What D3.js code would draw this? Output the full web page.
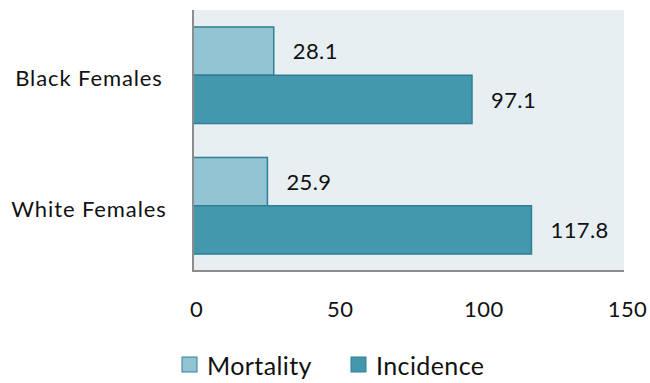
<!DOCTYPE html>
<html>
<head>
<meta charset="utf-8">
<script src="https://cdn.jsdelivr.net/npm/d3@7"></script>
<style>
  body { margin: 0; background: #fff; }
  svg { font-family: Lato, "Open Sans", sans-serif; font-weight: 400; }
</style>
</head>
<body>
<div id="chart"></div>
<script>
const categories = ["Black Females", "White Females"];
const seriesNames = ["Mortality", "Incidence"];
const mortality = [28.1, 25.9];
const incidence = [97.1, 117.8];
const xTicks = [0, 50, 100, 150];

const colors = { Mortality: "#93c4d4", Incidence: "#4398ae" };
const strokeCol = "#2f8095";

const w = 650,
  h = 383;
const m = { left: 193, right: 26, top: 10, bottom: 112 };

const svg = d3
  .select("#chart")
  .append("svg")
  .attr("width", w)
  .attr("height", h);

const x = d3
  .scaleLinear()
  .domain([0, 150])
  .range([m.left, w - m.right]);

const y = d3
  .scaleBand()
  .domain(categories)
  .range([m.top, h - m.bottom])
  .paddingInner(0.26)
  .paddingOuter(0.13);

const ySub = d3
  .scaleBand()
  .domain(seriesNames)
  .range([0, y.bandwidth()]);

// plot background
svg
  .append("rect")
  .attr("x", m.left)
  .attr("y", m.top)
  .attr("width", x(150) - m.left)
  .attr("height", h - m.bottom - m.top)
  .attr("fill", "#e8eff3");

const rows = categories.map((c, i) => ({
  cat: c,
  vals: [
    { name: "Mortality", v: mortality[i] },
    { name: "Incidence", v: incidence[i] },
  ],
}));

const g = svg
  .selectAll("g.row")
  .data(rows)
  .enter()
  .append("g")
  .attr("class", "row")
  .attr("transform", (d) => `translate(0, ${y(d.cat)})`);

g.selectAll("rect")
  .data((d) => d.vals)
  .enter()
  .append("rect")
  .attr("x", x(0))
  .attr("y", (d) => ySub(d.name))
  .attr("width", (d) => x(d.v) - x(0))
  .attr("height", ySub.bandwidth())
  .attr("fill", (d) => colors[d.name])
  .attr("stroke", strokeCol)
  .attr("stroke-width", 1.5);

g.selectAll("text.val")
  .data((d) => d.vals)
  .enter()
  .append("text")
  .attr("class", "val")
  .attr("x", (d) => x(d.v) + 19)
  .attr("y", (d) => ySub(d.name) + ySub.bandwidth() / 2)
  .attr("dy", "0.38em")
  .attr("font-size", 22)
  .attr("letter-spacing", 0.4)
  .attr("fill", "#111")
  .text((d) => d.v.toFixed(1));

// category labels
svg
  .selectAll("text.cat")
  .data(categories)
  .enter()
  .append("text")
  .attr("class", "cat")
  .attr("x", 89)
  .attr("y", (d) => y(d) + y.bandwidth() / 2 + 3)
  .attr("dy", "0.36em")
  .attr("text-anchor", "middle")
  .attr("font-size", 22)
  .attr("letter-spacing", 0.9)
  .attr("fill", "#111")
  .text((d) => d);

// axis lines
svg
  .append("line")
  .attr("x1", m.left)
  .attr("x2", m.left)
  .attr("y1", m.top)
  .attr("y2", h - m.bottom)
  .attr("stroke", "#8c8c8c")
  .attr("stroke-width", 2);

svg
  .append("line")
  .attr("x1", m.left - 1)
  .attr("x2", x(150))
  .attr("y1", h - m.bottom)
  .attr("y2", h - m.bottom)
  .attr("stroke", "#8c8c8c")
  .attr("stroke-width", 2);

// x axis tick labels
const xAxis = d3.axisBottom(x).tickValues(xTicks).tickSize(0).tickPadding(0);
const ax = svg
  .append("g")
  .attr("transform", `translate(3, ${h - m.bottom + 30})`)
  .call(xAxis);
ax.select(".domain").remove();
ax.selectAll("text")
  .attr("font-family", "Lato, 'Open Sans', sans-serif")
  .attr("font-size", 22)
  .attr("letter-spacing", 0.4)
  .attr("fill", "#111");

// legend
const legend = svg
  .selectAll("g.leg")
  .data(seriesNames)
  .enter()
  .append("g")
  .attr("class", "leg")
  .attr("transform", (d, i) => `translate(${[182, 351][i]}, 357)`);

legend
  .append("rect")
  .attr("width", 15)
  .attr("height", 15)
  .attr("fill", (d) => colors[d])
  .attr("stroke", strokeCol)
  .attr("stroke-width", 1);

legend
  .append("text")
  .attr("x", 25)
  .attr("y", 18)
  .attr("font-size", 25)
  .attr("letter-spacing", 0.4)
  .attr("fill", "#111")
  .text((d) => d);
</script>
</body>
</html>
